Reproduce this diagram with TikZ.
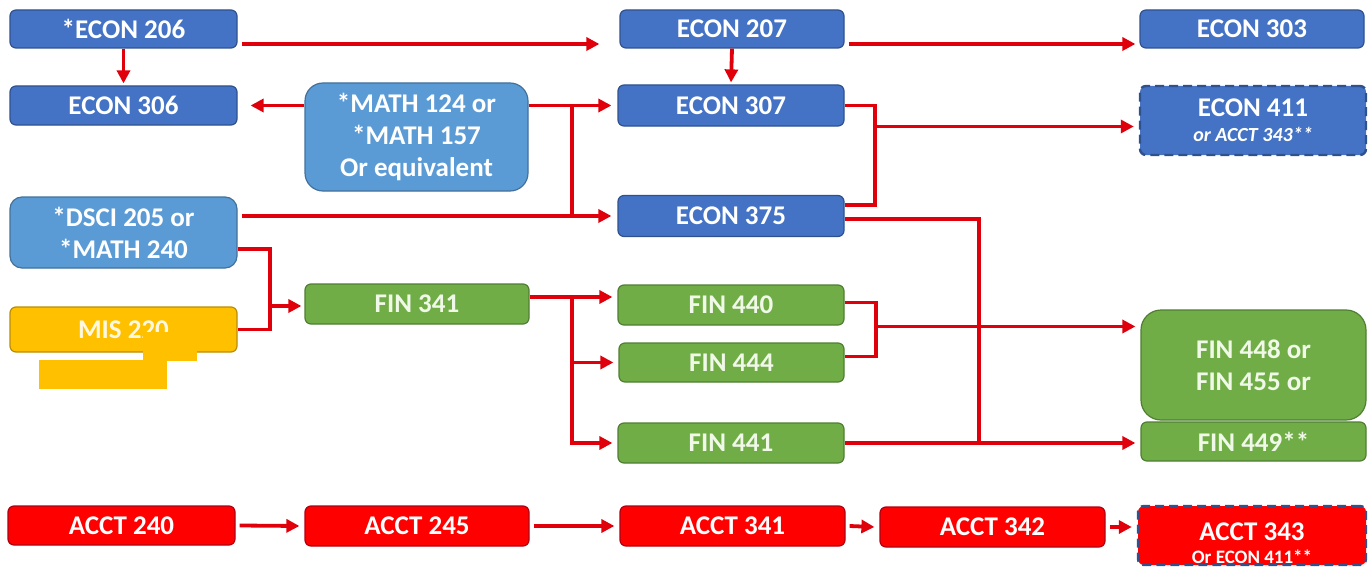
\documentclass[tikz,border=0pt]{standalone}
\usepackage{fontspec}
\setmainfont{Carlito}
\usetikzlibrary{arrows.meta,calc}
\definecolor{dblue}{HTML}{4472C4}
\definecolor{dbord}{HTML}{2F528F}
\definecolor{lblue}{HTML}{5B9BD5}
\definecolor{lbord}{HTML}{41719C}
\definecolor{fgreen}{HTML}{70AD47}
\definecolor{gbord}{HTML}{507E32}
\definecolor{yel}{HTML}{FFC000}
\definecolor{ybord}{HTML}{BC8C00}
\definecolor{rbox}{HTML}{FF0000}
\definecolor{rbord}{HTML}{B00010}
\definecolor{arrc}{HTML}{E0000B}
\tikzset{
  box/.style={rectangle, rounded corners=6pt, draw, line width=1.2pt, text=white,
    font=\fontsize{27}{32}\selectfont\bfseries, inner sep=0pt, align=center},
  econ/.style={box, fill=dblue, draw=dbord},
  lb/.style={box, fill=lblue, draw=lbord},
  fin/.style={box, fill=fgreen, draw=gbord, text={rgb,255:red,240;green,248;blue,232}},
  mis/.style={box, fill=yel, draw=ybord, text={rgb,255:red,255;green,248;blue,225}},
  acct/.style={box, fill=rbox, draw=rbord},
  dashbox/.style={dash pattern=on 9pt off 5pt, line width=2.4pt, draw=dbord},
  conn/.style={draw=arrc, line width=3.8pt},
  arrow/.style={conn, -{Triangle[length=13pt,width=13pt]}},
}
\begin{document}
\begin{tikzpicture}[x=1pt,y=-1pt]
\useasboundingbox (0,0) rectangle (1369,578);
% column 1
\node[econ, minimum width=227pt, minimum height=38pt] (e206) at (123.5,29) {*ECON 206};
\node[econ, minimum width=227pt, minimum height=39pt] (e306) at (123.5,105.5) {ECON 306};
\node[lb, rounded corners=18pt, minimum width=223pt, minimum height=108pt] (math) at (416.5,137) {*MATH 124 or\\*MATH 157\\Or equivalent};
\node[lb, rounded corners=12pt, minimum width=227pt, minimum height=71pt] (dsci) at (123.5,232.5) {*DSCI 205 or\\*MATH 240};
\node[mis, minimum width=227pt, minimum height=45pt] (mis) at (123.5,329.5) {MIS 220};
\fill[yel] (143,332) rectangle (197,361);
\fill[yel] (39,360) rectangle (167,389);
\node[fin, minimum width=224pt, minimum height=40pt] (fin341) at (417,304) {FIN 341};
% column 3
\node[econ, minimum width=224pt, minimum height=38pt] (e207) at (732,29) {ECON 207};
\node[econ, minimum width=226pt, minimum height=41pt] (e307) at (731,105.5) {ECON 307};
\node[econ, minimum width=226pt, minimum height=41pt] (e375) at (731,216) {ECON 375};
\node[fin, minimum width=226pt, minimum height=40pt] (fin440) at (731,305) {FIN 440};
\node[fin, minimum width=225pt, minimum height=39pt] (fin444) at (731.5,362.5) {FIN 444};
\node[fin, minimum width=226pt, minimum height=40pt] (fin441) at (731,443) {FIN 441};
% column 5
\node[econ, minimum width=224pt, minimum height=38pt] (e303) at (1252,29) {ECON 303};
\node[econ, dashbox, minimum width=226pt, minimum height=69pt] (e411) at (1253,120.5)
  {ECON 411\\[-7pt]{\fontsize{20}{22}\selectfont\bfseries\itshape or ACCT 343**}};
\node[fin, rounded corners=20pt, minimum width=225pt, minimum height=110pt] (fin448) at (1253.5,365) {FIN 448 or\\FIN 455 or};
\node[fin, minimum width=225pt, minimum height=39pt] (fin449) at (1253.5,441.5) {FIN 449**};
% accounting row
\node[acct, minimum width=227pt, minimum height=39pt] (a240) at (121.5,525.5) {ACCT 240};
\node[acct, minimum width=224pt, minimum height=40pt] (a245) at (417,526) {ACCT 245};
\node[acct, minimum width=225pt, minimum height=40pt] (a341) at (732.5,526) {ACCT 341};
\node[acct, minimum width=225pt, minimum height=40pt] (a342) at (992.5,527) {ACCT 342};
\node[acct, dashbox, minimum width=228pt, minimum height=59pt,
  label={[text=white, align=center, inner sep=0pt, yshift=-8pt,
          font=\fontsize{27}{32}\selectfont\bfseries]center:ACCT 343\\[-9pt]{\fontsize{19}{21}\selectfont Or ECON 411**}}]
  (a343) at (1252,535.5) {};
% junction coordinates
\coordinate (j1) at (572,105.5);
\coordinate (j2) at (572,216);
\coordinate (k1) at (875,126.5);
\coordinate (k2) at (979,443);
\coordinate (k3) at (270,306);
\coordinate (k4) at (572,297);
\coordinate (k6) at (876,326.5);
% connectors
\draw[arrow] ([xshift=4pt,yshift=-15pt]e206.east) -- ([xshift=-20pt,yshift=-15pt]e207.west);
\draw[arrow, shorten >=2pt] (e206.south) -- (e306.north);
\draw[arrow, shorten >=2pt] (e207.south) -- (e307.north);
\draw[arrow] ([xshift=4pt,yshift=-15pt]e207.east) -- ([xshift=-4pt,yshift=-15pt]e303.west);
\draw[arrow] ([yshift=31.5pt]math.west) -- ([xshift=13pt]e306.east);
\draw[arrow] ([yshift=31.5pt]math.east) -- ([xshift=-6pt]e307.west);
\draw[conn] (j1) -- (j2);
\draw[arrow] ([xshift=4pt,yshift=16.5pt]dsci.east) -- ([xshift=-6pt]e375.west);
\draw[conn] (e307.east) -| (k1) |- ([yshift=11pt]e375.east);
\draw[arrow] (k1) -- ([xshift=-5pt]e411.west |- k1);
\draw[conn] ([yshift=-3pt]e375.east) -| (k2);
\draw[conn] ([yshift=-16.5pt]dsci.east) -| (k3) |- (mis.east);
\draw[arrow] (k3) -- ([xshift=-3pt]fin341.west |- k3);
\draw[arrow] ([yshift=7pt]fin341.east) -- ([xshift=-5pt]fin440.west |- k4);
\draw[arrow] (k4) |- ([xshift=-5pt]fin441.west);
\draw[arrow] (k4 |- fin444.west) -- ([xshift=-5pt]fin444.west);
\draw[conn] ([yshift=2.5pt]fin440.east) -| (k6) |- ([yshift=6pt]fin444.east);
\draw[arrow] (k6) -- ([xshift=-5pt]fin448.west |- k6);
\draw[arrow] (fin441.east) -- ([xshift=-5pt]fin449.west |- fin441.east);
\draw[arrow] ([xshift=4pt]a240.east) -- ([xshift=-5pt]a245.west);
\draw[arrow] ([xshift=4pt]a245.east) -- ([xshift=-5pt]a341.west);
\draw[arrow] ([xshift=4pt]a341.east) -- ([xshift=-5pt]a342.west);
\draw[arrow] ([xshift=4pt]a342.east) -- ([xshift=-5pt]a343.west |- a342.east);
\end{tikzpicture}
\end{document}
